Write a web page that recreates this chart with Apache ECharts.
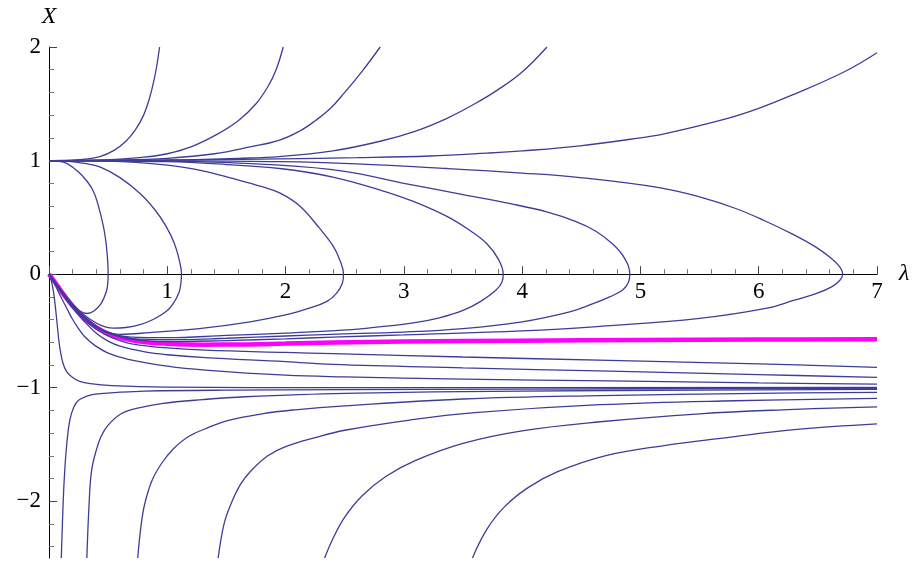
<!DOCTYPE html>
<html><head><meta charset="utf-8">
<script src="https://cdn.jsdelivr.net/npm/echarts@6/dist/echarts.min.js"></script>
<style>html,body{margin:0;padding:0;background:#fff}#c{width:918px;height:563px}</style>
</head><body><div id="c"></div>
<script>
// Tick labels
const lambdaTicks = [0, 1, 2, 3, 4, 5, 6, 7];
const xMajorTicks = [-2, -1, 0, 1, 2];

// Separatrix (magenta)
const sepCurve = [[0,0],[0.05,-0.07],[0.1,-0.145],[0.15,-0.215],[0.2,-0.28],[0.3,-0.39],[0.4,-0.47],[0.5,-0.525],[0.62,-0.565],[0.8,-0.598],[1.0,-0.613],[1.3,-0.621],[1.6,-0.62],[2.0,-0.612],[2.4,-0.603],[3,-0.594],[4,-0.586],[5,-0.58],[6,-0.576],[7,-0.573]];

// Curves from (0,1) rising
const rise1 = [[0,1],[0.15,1.0],[0.3,1.012],[0.43,1.035],[0.55,1.09],[0.65,1.17],[0.73,1.27],[0.8,1.4],[0.85,1.55],[0.89,1.72],[0.915,1.86],[0.935,2.0]];
const rise2 = [[0,1],[0.4,1.003],[0.8,1.03],[1.0,1.06],[1.2,1.12],[1.42,1.23],[1.6,1.35],[1.75,1.5],[1.85,1.65],[1.92,1.8],[1.98,2.0]];
const rise3 = [[0,1],[0.6,1.005],[1.0,1.02],[1.4,1.06],[1.7,1.12],[1.95,1.18],[2.12,1.26],[2.25,1.35],[2.38,1.46],[2.5,1.6],[2.65,1.79],[2.8,2.0]];
const rise4 = [[0,1],[1.0,1.005],[1.6,1.02],[1.95,1.035],[2.4,1.085],[2.8,1.17],[3.1,1.26],[3.36,1.37],[3.6,1.5],[3.79,1.62],[4.0,1.78],[4.21,2.0]];
const rise5 = [[0,1],[1.0,1.003],[1.95,1.015],[2.6,1.025],[3.22,1.04],[3.7,1.065],[4.0,1.085],[4.49,1.13],[5.0,1.2],[5.2,1.235],[5.73,1.37],[6.0,1.46],[6.29,1.58],[6.72,1.78],[7.0,1.95]];

// Loops from (0,1) back to origin
const loop1 = [[0,1],[0.08,0.995],[0.15,0.975],[0.25,0.9],[0.32,0.82],[0.37,0.74],[0.41,0.63],[0.46,0.42],[0.485,0.25],[0.497,0.1],[0.5,0],[0.497,-0.08],[0.483,-0.16],[0.44,-0.26],[0.38,-0.325],[0.32,-0.347],[0.26,-0.325],[0.2,-0.27],[0.15,-0.205],[0.1,-0.14],[0.05,-0.07],[0,0]];
const loop2 = [[0,1],[0.15,0.995],[0.3,0.975],[0.43,0.945],[0.6,0.85],[0.77,0.71],[0.9,0.56],[0.99,0.42],[1.06,0.27],[1.1,0.13],[1.12,0],[1.115,-0.08],[1.1,-0.16],[1.05,-0.26],[0.99,-0.33],[0.88,-0.4],[0.77,-0.445],[0.65,-0.47],[0.54,-0.475],[0.45,-0.455],[0.35,-0.4],[0.25,-0.315],[0.15,-0.205],[0.07,-0.097],[0,0]];
const loop3 = [[0,1],[0.5,0.995],[1.0,0.96],[1.3,0.91],[1.56,0.84],[1.8,0.77],[1.95,0.715],[2.12,0.6],[2.29,0.4],[2.4,0.25],[2.46,0.12],[2.49,0],[2.48,-0.08],[2.43,-0.17],[2.35,-0.24],[2.2,-0.3],[2.0,-0.36],[1.7,-0.42],[1.27,-0.48],[0.85,-0.515],[0.6,-0.53],[0.45,-0.49],[0.35,-0.42],[0.25,-0.33],[0.15,-0.208],[0.07,-0.098],[0,0]];
const loop4 = [[0,1],[1.0,0.99],[1.5,0.965],[1.95,0.93],[2.4,0.855],[2.8,0.74],[3.08,0.64],[3.36,0.51],[3.55,0.39],[3.7,0.27],[3.8,0.13],[3.84,0],[3.83,-0.07],[3.78,-0.14],[3.65,-0.24],[3.5,-0.32],[3.3,-0.385],[3.08,-0.43],[2.7,-0.475],[2.38,-0.5],[2.0,-0.52],[1.5,-0.54],[1.0,-0.56],[0.7,-0.555],[0.5,-0.515],[0.4,-0.462],[0.3,-0.383],[0.2,-0.275],[0.1,-0.142],[0,0]];
const loop5 = [[0,1],[1,0.995],[1.95,0.96],[2.5,0.905],[3.0,0.8],[3.5,0.7],[3.9,0.62],[4.2,0.55],[4.45,0.465],[4.62,0.38],[4.76,0.27],[4.86,0.15],[4.91,0],[4.9,-0.07],[4.85,-0.14],[4.74,-0.2],[4.6,-0.26],[4.41,-0.33],[4.0,-0.42],[3.5,-0.48],[3.0,-0.51],[2.38,-0.53],[2.0,-0.545],[1.5,-0.565],[1.0,-0.578],[0.7,-0.568],[0.5,-0.518],[0.4,-0.465],[0.3,-0.385],[0.2,-0.277],[0.1,-0.143],[0,0]];
const loop6 = [[0,1],[1,0.998],[1.95,0.99],[2.6,0.97],[3.36,0.93],[4.0,0.89],[4.49,0.85],[5.17,0.76],[5.5,0.68],[5.8,0.58],[6.05,0.47],[6.29,0.35],[6.48,0.24],[6.6,0.15],[6.68,0.07],[6.71,0],[6.69,-0.05],[6.62,-0.11],[6.49,-0.17],[6.3,-0.23],[6.07,-0.3],[5.5,-0.39],[4.66,-0.46],[4.0,-0.5],[3.0,-0.535],[2.4,-0.555],[2.0,-0.57],[1.5,-0.585],[1.0,-0.595],[0.7,-0.575],[0.5,-0.52],[0.4,-0.467],[0.3,-0.387],[0.2,-0.278],[0.1,-0.144],[0,0]];

// Curves from origin approaching -1 from above
const fall1 = [[0,0],[0.1,-0.148],[0.2,-0.285],[0.3,-0.4],[0.4,-0.485],[0.53,-0.56],[0.7,-0.615],[1.0,-0.65],[1.32,-0.67],[2.0,-0.69],[2.4,-0.7],[3.5,-0.73],[4.74,-0.76],[6,-0.79],[7,-0.822]];
const fall2 = [[0,0],[0.1,-0.155],[0.2,-0.3],[0.3,-0.42],[0.4,-0.52],[0.5,-0.59],[0.6,-0.635],[0.81,-0.685],[1.0,-0.71],[1.32,-0.735],[2.0,-0.77],[2.4,-0.795],[3.5,-0.825],[4.74,-0.855],[6,-0.885],[7,-0.91]];
const fall3 = [[0,0],[0.05,-0.09],[0.1,-0.2],[0.15,-0.3],[0.2,-0.4],[0.25,-0.48],[0.3,-0.55],[0.39,-0.63],[0.5,-0.695],[0.67,-0.75],[1.0,-0.81],[1.32,-0.845],[2.0,-0.89],[2.5,-0.905],[3.5,-0.925],[4.74,-0.94],[6,-0.958],[7,-0.969]];
const fall4 = [[0,0],[0.02,-0.06],[0.04,-0.17],[0.055,-0.3],[0.07,-0.45],[0.085,-0.6],[0.1,-0.7],[0.12,-0.79],[0.15,-0.86],[0.2,-0.91],[0.26,-0.945],[0.35,-0.965],[0.53,-0.982],[1.0,-0.995],[2.5,-1.0],[7,-0.997]];

// Curves from below approaching -1
const low1 = [[0.104,-2.5],[0.12,-2.0],[0.133,-1.73],[0.15,-1.5],[0.175,-1.29],[0.21,-1.17],[0.25,-1.11],[0.32,-1.075],[0.39,-1.057],[0.6,-1.04],[0.81,-1.03],[1.5,-1.022],[2.5,-1.017],[4,-1.012],[7,-1.005]];
const low2 = [[0.32,-2.5],[0.34,-2.0],[0.36,-1.73],[0.4,-1.55],[0.44,-1.43],[0.5,-1.33],[0.61,-1.23],[0.75,-1.18],[0.95,-1.14],[1.3,-1.105],[1.66,-1.08],[2.5,-1.05],[4,-1.03],[5.5,-1.022],[7,-1.015]];
const low3 = [[0.75,-2.5],[0.78,-2.2],[0.81,-2.02],[0.87,-1.82],[0.95,-1.67],[1.05,-1.54],[1.18,-1.43],[1.35,-1.35],[1.51,-1.29],[1.8,-1.23],[2.08,-1.195],[2.5,-1.16],[3.5,-1.1],[4.66,-1.07],[6,-1.05],[7,-1.042]];
const low4 = [[1.43,-2.5],[1.48,-2.2],[1.54,-2.02],[1.62,-1.85],[1.71,-1.73],[1.85,-1.6],[2.0,-1.52],[2.25,-1.44],[2.5,-1.375],[3.05,-1.285],[3.6,-1.22],[4.66,-1.15],[5.8,-1.115],[7,-1.095]];
const low5 = [[2.33,-2.5],[2.4,-2.33],[2.5,-2.14],[2.65,-1.95],[2.85,-1.78],[3.1,-1.64],[3.5,-1.49],[4.0,-1.38],[4.66,-1.3],[5.5,-1.23],[6.2,-1.195],[7,-1.169]];
const low6 = [[3.58,-2.5],[3.7,-2.25],[3.85,-2.05],[4.05,-1.88],[4.3,-1.74],[4.7,-1.6],[5.2,-1.51],[5.73,-1.44],[6.3,-1.37],[7,-1.319]];

const blueCurves = [rise1, rise2, rise3, rise4, rise5, loop1, loop2, loop3, loop4, loop5, loop6,
  fall1, fall2, fall3, fall4, low1, low2, low3, low4, low5, low6];

const BLUE = '#3d3d99';
const font = "'Liberation Serif', 'Times New Roman', serif";

function curve(data, color, width) {
  return { type: 'line', data: data, showSymbol: false, smooth: 0.4, silent: true, clip: true,
    lineStyle: { color: color, width: width }, xAxisIndex: 0, yAxisIndex: 0 };
}

const series = [curve(sepCurve, '#ff00ff', 4.5)];
blueCurves.forEach(function (c) { series.push(curve(c, BLUE, 1.3)); });

const yMinor = [];
for (let i = -12; i <= 10; i++) { const v = +(i * 0.2).toFixed(1); if (Math.abs(v - Math.round(v)) > 1e-9) yMinor.push(v); }

const GRID_TOP = 47, GRID_BOTTOM = 5, H = 563;
const plotH = H - GRID_TOP - GRID_BOTTOM;
const zeroFromBottom = plotH * (0 - (-2.5)) / (2 - (-2.5));

const chart = echarts.init(document.getElementById('c'), null, { renderer: 'canvas' });
chart.setOption({
  animation: false,
  backgroundColor: '#fff',
  grid: { left: 49, right: 41, top: GRID_TOP, bottom: GRID_BOTTOM, containLabel: false, outerBoundsMode: 'none' },
  xAxis: {
    type: 'value', min: lambdaTicks[0], max: lambdaTicks[lambdaTicks.length - 1], interval: 1,
    position: 'bottom', offset: -zeroFromBottom,
    name: 'λ', nameLocation: 'end', nameGap: 22,
    nameTextStyle: { fontFamily: font, fontStyle: 'italic', fontSize: 24, color: '#000' },
    axisLine: { onZero: false, lineStyle: { color: '#000', width: 1 } },
    axisTick: { show: true, inside: true, length: 8, lineStyle: { color: '#444', width: 1 } },
    minorTick: { show: true, splitNumber: 5, length: 5, lineStyle: { color: '#777', width: 1 } },
    axisLabel: { margin: 6, fontFamily: font, fontSize: 23, color: '#000',
      formatter: function (v) { return v === 0 ? '' : String(v); } },
    splitLine: { show: false }, minorSplitLine: { show: false }
  },
  yAxis: [{
    type: 'value', min: -2.5, max: 2, position: 'left',
    name: 'X', nameLocation: 'end', nameGap: 18,
    nameTextStyle: { fontFamily: font, fontStyle: 'italic', fontSize: 24, color: '#000', align: 'center' },
    axisLine: { show: true, onZero: false, lineStyle: { color: '#000', width: 1 } },
    axisTick: { show: true, inside: true, length: 8, customValues: xMajorTicks, lineStyle: { color: '#444', width: 1 } },
    axisLabel: { show: true, margin: 8, fontFamily: font, fontSize: 23, color: '#000', customValues: xMajorTicks,
      formatter: function (v) { return String(v).replace('-', '\u2212'); } },
    splitLine: { show: false }
  }, {
    type: 'value', min: -2.5, max: 2, position: 'left', offset: 0,
    axisLine: { show: false, onZero: false },
    axisTick: { show: true, inside: true, length: 5, customValues: yMinor, lineStyle: { color: '#777', width: 1 } },
    axisLabel: { show: false },
    splitLine: { show: false }
  }],
  series: series
});
</script>
</body></html>
